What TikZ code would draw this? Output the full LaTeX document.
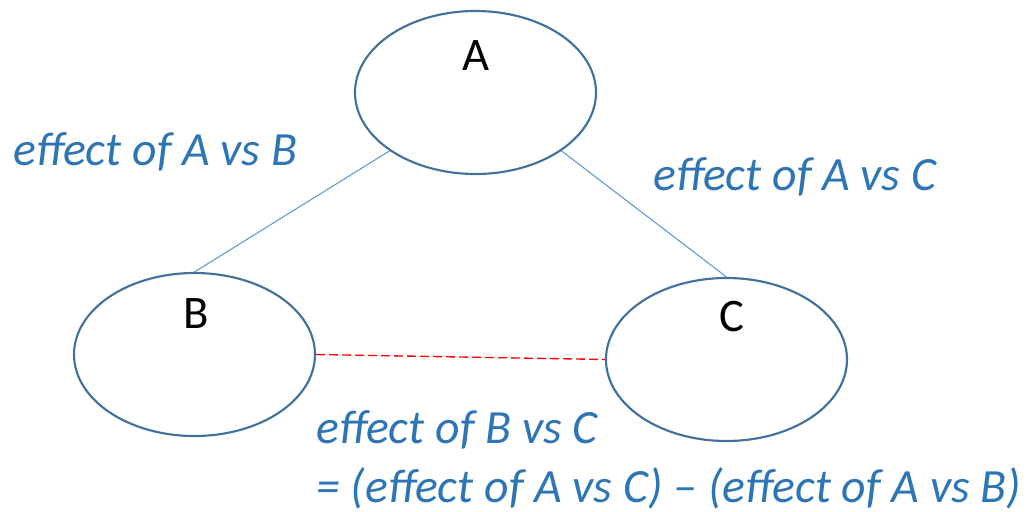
\documentclass[tikz,border=0pt]{standalone}
\usepackage{fontspec}
\setmainfont{Carlito}
\usetikzlibrary{shapes.geometric}
\definecolor{ellline}{HTML}{41719C}
\definecolor{conn}{HTML}{5B9BD5}
\definecolor{txtblue}{HTML}{2E75B6}
\tikzset{
  ell/.style={ellipse, draw=ellline, line width=1.6pt, fill=white,
    minimum width=180.75pt, minimum height=122.25pt, inner sep=0pt},
  letter/.style={anchor=base, inner sep=0pt, font=\fontsize{35}{42}\selectfont, text=black},
  note/.style={anchor=base west, inner sep=0pt, font=\fontsize{35.8}{42}\selectfont\itshape, text=txtblue},
  conline/.style={draw=conn, line width=0.8pt},
  diffline/.style={draw=red, line width=1pt, dash pattern=on 6.75pt off 3pt}
}
\begin{document}
\begin{tikzpicture}[x=0.75pt,y=-0.75pt]
\useasboundingbox (0,0) rectangle (1035,511);
\node[ell] (A) at (475.5,92.5) {};
\node[ell] (B) at (194.5,354.5) {};
\node[ell] (C) at (726.5,359.5) {};
\node[letter] (tA) at (476,70) {A};
\node[letter] (tB) at (196,328) {B};
\node[letter] (tC) at (732,331) {C};
\draw[conline] (A.south west) -- (B.north);
\draw[conline] (A.south east) -- (C.north);
\draw[diffline] (B.east) -- (C.west);
\node[note] (nAB) at (13,165) {effect of A vs B};
\node[note] (nAC) at (653,190) {effect of A vs C};
\node[note] (nBC) at (316,443) {effect of B vs C};
\node[note] (nEq) at (316,502) {= (effect of A vs C) – (effect of A vs B)};
\end{tikzpicture}
\end{document}
